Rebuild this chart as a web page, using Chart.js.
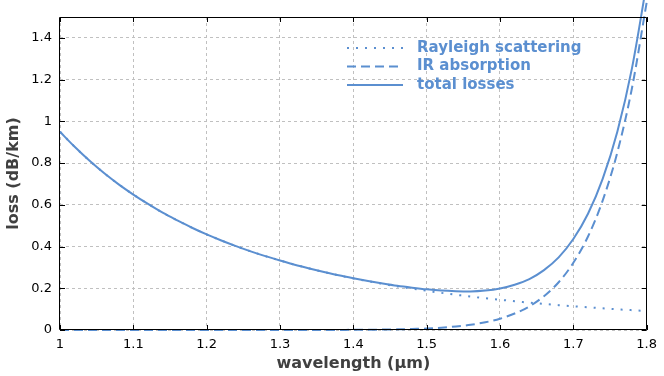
<!DOCTYPE html>
<html>
<head>
<meta charset="utf-8">
<script src="https://cdn.jsdelivr.net/npm/chart.js@4"></script>
<style>
  body { margin: 0; background: #fff; }
  canvas { display: block; }
</style>
</head>
<body>
<canvas id="grafico" width="664" height="376"></canvas>
<script>
// wavelengths (µm), sampled every 0.02
const wavelengths = [1.00, 1.02, 1.04, 1.06, 1.08, 1.10, 1.12, 1.14, 1.16, 1.18,
  1.20, 1.22, 1.24, 1.26, 1.28, 1.30, 1.32, 1.34, 1.36, 1.38,
  1.40, 1.42, 1.44, 1.46, 1.48, 1.50, 1.52, 1.54, 1.56, 1.58,
  1.60, 1.62, 1.64, 1.66, 1.68, 1.70, 1.72, 1.74, 1.76, 1.78, 1.80];

const rayleigh = [0.950, 0.878, 0.812, 0.752, 0.698, 0.649, 0.604, 0.562, 0.525, 0.490,
  0.458, 0.429, 0.402, 0.377, 0.354, 0.333, 0.313, 0.295, 0.278, 0.262,
  0.247, 0.234, 0.221, 0.209, 0.198, 0.188, 0.178, 0.169, 0.160, 0.152,
  0.145, 0.138, 0.131, 0.125, 0.119, 0.114, 0.109, 0.104, 0.099, 0.095, 0.091];

const irAbsorption = [0, 0, 0, 0, 0, 0, 0, 0, 0, 0,
  0, 0, 0, 0, 0, 0, 0, 0, 0, 0,
  0.001, 0.001, 0.002, 0.003, 0.005, 0.007, 0.011, 0.017, 0.025, 0.037,
  0.054, 0.079, 0.113, 0.162, 0.229, 0.322, 0.448, 0.620, 0.851, 1.160, 1.570];

const totalLosses = [0.950, 0.878, 0.812, 0.752, 0.698, 0.649, 0.604, 0.562, 0.525, 0.490,
  0.458, 0.429, 0.402, 0.377, 0.354, 0.333, 0.313, 0.295, 0.278, 0.262,
  0.248, 0.235, 0.223, 0.212, 0.203, 0.195, 0.189, 0.186, 0.185, 0.189,
  0.199, 0.217, 0.244, 0.287, 0.348, 0.436, 0.557, 0.724, 0.950, 1.255, 1.661];

const seriesNames = ['Rayleigh scattering', 'IR absorption', 'total losses'];

const xTicks = [1, 1.1, 1.2, 1.3, 1.4, 1.5, 1.6, 1.7, 1.8];
const xTickLabels = ['1', '1.1', '1.2', '1.3', '1.4', '1.5', '1.6', '1.7', '1.8'];
const yTicks = [0, 0.2, 0.4, 0.6, 0.8, 1, 1.2, 1.4];
const yTickLabels = ['0', '0.2', '0.4', '0.6', '0.8', '1', '1.2', '1.4'];

const COR = '#5b8fd0';
const dashes = [[2, 7], [9, 5], []];

function pontos(valores) {
  return wavelengths.map((x, i) => ({ x: x, y: valores[i] }));
}

// frame with inward ticks on all four sides
const moldura = {
  id: 'moldura',
  afterDatasetsDraw(chart) {
    const { ctx, chartArea: a, scales } = chart;
    ctx.save();
    ctx.strokeStyle = '#000';
    ctx.lineWidth = 1;
    ctx.beginPath();
    ctx.rect(Math.round(a.left) - 0.5, Math.round(a.top) + 0.5,
      Math.round(a.right - a.left), Math.round(a.bottom - a.top) - 1);
    xTicks.forEach(v => {
      const px = Math.round(scales.x.getPixelForValue(v)) + 0.5;
      ctx.moveTo(px, a.bottom); ctx.lineTo(px, a.bottom - 5);
      ctx.moveTo(px, a.top); ctx.lineTo(px, a.top + 5);
    });
    yTicks.forEach(v => {
      const py = Math.round(scales.y.getPixelForValue(v)) + 0.5;
      ctx.moveTo(a.left, py); ctx.lineTo(a.left + 5, py);
      ctx.moveTo(a.right, py); ctx.lineTo(a.right - 5, py);
    });
    ctx.stroke();
    ctx.restore();
  }
};

// legend drawn inside the plot, line sample left of the text
const legenda = {
  id: 'legenda',
  afterDraw(chart) {
    const ctx = chart.ctx;
    ctx.save();
    ctx.font = 'bold 15px "DejaVu Sans"';
    ctx.textBaseline = 'middle';
    ctx.fillStyle = COR;
    ctx.strokeStyle = COR;
    ctx.lineWidth = 2;
    seriesNames.forEach((nome, i) => {
      const y = 48 + i * 18.5;
      ctx.setLineDash(dashes[i]);
      ctx.beginPath();
      ctx.moveTo(347, y);
      ctx.lineTo(403, y);
      ctx.stroke();
      ctx.fillText(nome, 417, y);
    });
    ctx.restore();
  }
};

const series = [rayleigh, irAbsorption, totalLosses];

new Chart(document.getElementById('grafico'), {
  type: 'line',
  data: {
    datasets: series.map((valores, i) => ({
      label: seriesNames[i],
      data: pontos(valores),
      borderColor: COR,
      borderWidth: 2,
      borderDash: dashes[i],
      pointRadius: 0,
      fill: false,
      cubicInterpolationMode: 'monotone',
      clip: false
    }))
  },
  options: {
    responsive: false,
    animation: false,
    layout: { padding: { top: 17, right: 14, left: 0, bottom: 0 } },
    plugins: { legend: { display: false }, tooltip: { enabled: false } },
    scales: {
      x: {
        type: 'linear',
        min: 1,
        max: 1.8,
        afterFit: s => { s.height = 46; },
        afterBuildTicks: s => { s.ticks = xTicks.map(v => ({ value: v })); },
        grid: { color: '#c0c0c0', lineWidth: 1, drawTicks: false },
        border: { display: false, dash: [3, 3] },
        ticks: {
          padding: 7,
          color: '#000',
          font: { family: 'DejaVu Sans', size: 13 },
          maxRotation: 0,
          autoSkip: false,
          callback: (v, i) => xTickLabels[i]
        },
        title: {
          display: true,
          text: 'wavelength (µm)',
          color: '#404040',
          font: { family: 'DejaVu Sans', size: 16, weight: 'bold' },
          padding: { top: 0, bottom: 3 }
        }
      },
      y: {
        type: 'linear',
        min: 0,
        max: 1.5,
        afterFit: s => { s.width = 60; },
        afterBuildTicks: s => { s.ticks = yTicks.map(v => ({ value: v })); },
        grid: { color: '#c0c0c0', lineWidth: 1, drawTicks: false },
        border: { display: false, dash: [3, 3] },
        ticks: {
          padding: 8,
          color: '#000',
          font: { family: 'DejaVu Sans', size: 13 },
          autoSkip: false,
          callback: (v, i) => yTickLabels[i]
        },
        title: {
          display: true,
          text: 'loss (dB/km)',
          color: '#404040',
          font: { family: 'DejaVu Sans', size: 16, weight: 'bold' },
          padding: { top: 4, bottom: 0 }
        }
      }
    }
  },
  plugins: [moldura, legenda]
});
</script>
</body>
</html>
